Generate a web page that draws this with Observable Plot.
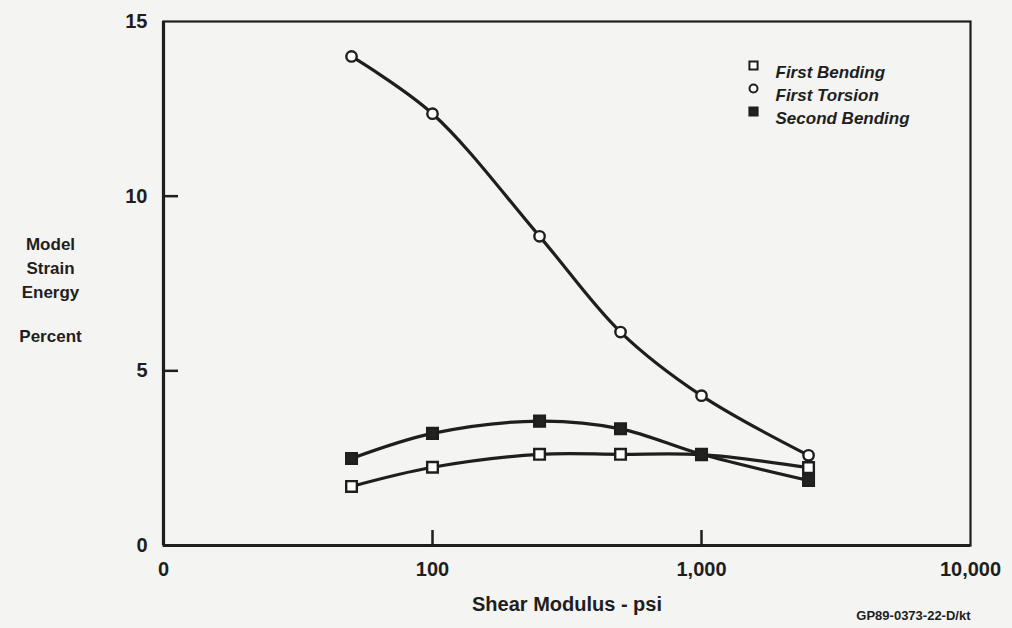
<!DOCTYPE html>
<html>
<head>
<meta charset="utf-8">
<script src="https://cdn.jsdelivr.net/npm/d3@7"></script>
<script src="https://cdn.jsdelivr.net/npm/@observablehq/plot@0.6"></script>
<style>
  html, body { margin: 0; padding: 0; background: #f4f4f2; }
  #chart { width: 1012px; height: 628px; overflow: hidden; }
  svg { font-family: "Liberation Sans", Arial, sans-serif; }
</style>
</head>
<body>
<div id="chart"></div>
<script>
// ---- data ----
const shearModulus = [50, 100, 250, 500, 1000, 2500];
const firstBending = [1.69, 2.24, 2.61, 2.61, 2.60, 2.23];
const firstTorsion = [14.0, 12.36, 8.85, 6.11, 4.29, 2.58];
const secondBending = [2.49, 3.21, 3.56, 3.34, 2.61, 1.86];
const seriesNames = ["First Bending", "First Torsion", "Second Bending"];
const xTicks = [10, 100, 1000, 10000];
const xTickLabels = ["0", "100", "1,000", "10,000"];
const yTicks = [0, 5, 10, 15];
const yTitleLines = ["Model", "Strain", "Energy", "", "Percent"];
const xTitle = "Shear Modulus - psi";
const footer = "GP89-0373-22-D/kt";

const seriesValues = [firstBending, firstTorsion, secondBending];
const rows = [];
seriesNames.forEach((name, s) => {
  shearModulus.forEach((x, i) => rows.push({series: name, x, y: seriesValues[s][i]}));
});

const symbolOf = {"First Bending": "square", "First Torsion": "circle", "Second Bending": "square"};
const fillOf = {"First Bending": "#ffffff", "First Torsion": "#ffffff", "Second Bending": "#222"};
const rOf = {"First Bending": 6, "First Torsion": 5.2, "Second Bending": 6};
const ink = "#1e1e1e";

// plot geometry and inward tick length (in pixels), converted to data units
const W = 1012, H = 628, mL = 163, mR = 42, mT = 21, mB = 83;
const xDomain = [10, 10000], yDomain = [0, 15];
const tickPx = 15;
const yPerPx = (yDomain[1] - yDomain[0]) / (H - mT - mB);
const decadesPerPx = Math.log10(xDomain[1] / xDomain[0]) / (W - mL - mR);
const xTickTop = yDomain[0] + tickPx * yPerPx;
const yTickRight = xDomain[0] * Math.pow(10, tickPx * decadesPerPx);

const marks = [
  // frame
  Plot.frame({stroke: ink, strokeWidth: 2.2}),
  Plot.ruleY([0], {stroke: ink, strokeWidth: 3.2}),
  Plot.ruleX([10], {stroke: ink, strokeWidth: 3.2}),
  // inward ticks
  Plot.ruleX(xTicks.slice(1, -1), {x: d => d, y1: () => yDomain[0], y2: () => xTickTop, stroke: ink, strokeWidth: 2.5}),
  Plot.ruleY(yTicks.slice(1, -1), {y: d => d, x1: () => xDomain[0], x2: () => yTickRight, stroke: ink, strokeWidth: 2.5}),
  // axes labels
  Plot.axisX(xTicks, {label: null, tickSize: 0, tickPadding: 16, tickFormat: d => xTickLabels[xTicks.indexOf(d)], fontSize: 20, fontWeight: "bold", fill: ink}),
  Plot.axisY(yTicks, {label: null, tickSize: 0, tickPadding: 16, fontSize: 20, fontWeight: "bold", fill: ink}),
];

// series lines and markers
seriesNames.forEach(name => {
  const data = rows.filter(d => d.series === name);
  marks.push(Plot.line(data, {x: "x", y: "y", curve: "catmull-rom", stroke: ink, strokeWidth: 3.2}));
});
seriesNames.forEach(name => {
  const data = rows.filter(d => d.series === name);
  marks.push(Plot.dot(data, {x: "x", y: "y", symbol: symbolOf[name], r: rOf[name], fill: fillOf[name], stroke: ink, strokeWidth: 2.4}));
});

// legend
seriesNames.forEach((name, i) => {
  marks.push(Plot.dot([name], {frameAnchor: "top-left", dx: 590, dy: 44 + i * 23, symbol: symbolOf[name], r: name === "First Torsion" ? 4 : 4.6, fill: fillOf[name], stroke: ink, strokeWidth: 2}));
  marks.push(Plot.text([name], {frameAnchor: "top-left", dx: 612, dy: 44 + i * 23, text: d => d, textAnchor: "start", fontSize: 17, fontWeight: "bold", fontStyle: "italic", fill: ink}));
});

// y title (multi-line, left of axis)
const yTitleOffsets = [216, 240, 264, 0, 308];
yTitleLines.forEach((line, i) => {
  if (!line) return;
  marks.push(Plot.text([line], {frameAnchor: "top-left", dx: -113, dy: yTitleOffsets[i], text: d => d, textAnchor: "middle", fontSize: 17, fontWeight: "bold", fill: ink}));
});

// x title
marks.push(Plot.text([xTitle], {frameAnchor: "bottom", dy: 65, text: d => d, fontSize: 20, fontWeight: "bold", fill: ink}));
// footer
marks.push(Plot.text([footer], {frameAnchor: "bottom-right", dx: 0, dy: 74, text: d => d, textAnchor: "end", fontSize: 13, fontWeight: "bold", fill: ink}));

const chart = Plot.plot({
  width: W,
  height: H,
  marginLeft: mL,
  marginRight: mR,
  marginTop: mT,
  marginBottom: mB,
  style: {background: "transparent", overflow: "visible"},
  x: {type: "log", domain: xDomain, axis: null},
  y: {domain: yDomain, axis: null},
  marks
});
document.getElementById("chart").append(chart);
</script>
</body>
</html>
